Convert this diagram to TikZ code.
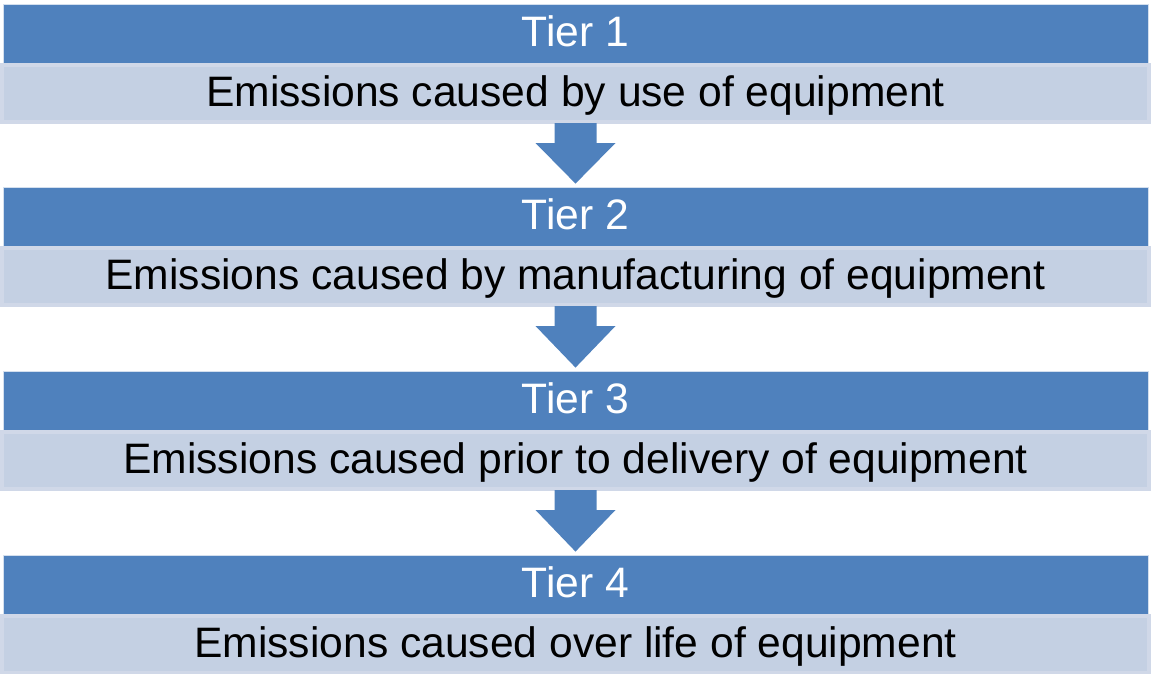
\documentclass[tikz,border=0pt]{standalone}
\usepackage{fontspec}
\setmainfont{Liberation Sans}
\usetikzlibrary{calc}
\definecolor{tierblue}{HTML}{4F81BD}
\definecolor{bandfill}{HTML}{C4D0E3}
\definecolor{bandedge}{HTML}{D0D8E8}
\begin{document}
\begin{tikzpicture}[x=1pt,y=-1pt,
  tiertext/.style={font=\fontsize{42.6}{50}\selectfont, text height=36pt, text depth=10pt},
  tierhead/.style={tiertext, rectangle, fill=tierblue, draw=white!75!tierblue,
    line width=0.8pt, minimum width=1145pt, minimum height=59pt, inner sep=0pt,
    text=white},
  tierband/.style={tiertext, rectangle, fill=bandfill, draw=bandedge,
    line width=4pt, minimum width=1147pt, minimum height=57pt, inner sep=0pt,
    text=black},
  flowarrow/.style={fill=tierblue}]
\useasboundingbox (0,0) rectangle (1151,673);

% four tiers: a dark heading bar over a light description band
\node[tierhead] (h1) at (575.5,33.5)  {Tier 1};
\node[tierband] (b1) at (575.5,93.5)  {Emissions caused by use of equipment};
\node[tierhead] (h2) at (575.5,216.5) {Tier 2};
\node[tierband] (b2) at (575.5,276.5) {Emissions caused by manufacturing of equipment};
\node[tierhead] (h3) at (575.5,400.5) {Tier 3};
\node[tierband] (b3) at (575.5,460.5) {Emissions caused prior to delivery of equipment};
\node[tierhead] (h4) at (575.5,584.5) {Tier 4};
\node[tierband] (b4) at (575.5,644.5) {Emissions caused over life of equipment};

% block arrows leading from each band down to the next heading
\foreach \a/\b in {b1/h2, b2/h3, b3/h4} {
  \fill[flowarrow]
    ($(\a.south)+(-21,-1)$) -- ($(\a.south)+(-21,19)$) -- ($(\a.south)+(-40,19)$)
    -- ($(\b.north)+(0,-3)$)
    -- ($(\a.south)+(40,19)$) -- ($(\a.south)+(21,19)$) -- ($(\a.south)+(21,-1)$)
    -- cycle;
}
\end{tikzpicture}
\end{document}
